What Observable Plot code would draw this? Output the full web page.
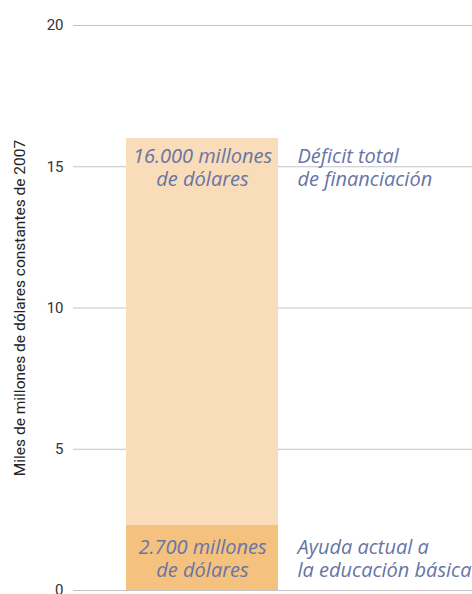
<!DOCTYPE html>
<html>
<head>
<meta charset="utf-8">
<script src="https://cdn.jsdelivr.net/npm/d3@7"></script>
<script src="https://cdn.jsdelivr.net/npm/@observablehq/plot@0.6"></script>
<style>
  html, body { margin: 0; padding: 0; background: #fff; }
  #chart svg { display: block; }
</style>
</head>
<body>
<div id="chart"></div>
<script>
// Data
const category = "Total";
const segmentNames = ["Ayuda actual a la educación básica", "Déficit total de financiación"];
const segmentStart = [0, 2.3];
const segmentEnd = [2.3, 16];
const segmentColors = ["#f5c17f", "#f9dcb9"];
const insideLabels = ["2.700 millones\nde dólares", "16.000 millones\nde dólares"];
const sideLabels = ["Ayuda actual a\nla educación básica", "Déficit total\nde financiación"];
const yTicks = [0, 5, 10, 15, 20];
const yLabel = "Miles de millones de dólares constantes de 2007";

const segments = segmentNames.map((name, i) => ({
  cat: category,
  name,
  y1: segmentStart[i],
  y2: segmentEnd[i],
  color: segmentColors[i],
  inside: insideLabels[i],
  side: sideLabels[i],
  // top label sits near the top of the bar, bottom label in the middle of its segment
  ly: i === 0 ? (segmentStart[i] + segmentEnd[i]) / 2 : segmentEnd[i] - 1
}));

const textColor = "#6774a6";
const labelFont = "'Open Sans', 'Noto Sans', sans-serif";

const chart = Plot.plot({
  width: 472,
  height: 594,
  marginLeft: 73,
  marginRight: 0,
  marginTop: 25,
  marginBottom: 4,
  style: {fontFamily: "Roboto, sans-serif", fontSize: "15px", color: "#333"},
  x: {type: "band", domain: [category], range: [126, 278], padding: 0, axis: null},
  y: {domain: [0, 20], ticks: yTicks, label: null},
  marks: [
    Plot.gridY(yTicks, {stroke: "#c4c4c4", strokeOpacity: 1, strokeWidth: 1}),
    Plot.barY(segments, {x: "cat", y1: "y1", y2: "y2", fill: "color"}),
    Plot.text(segments, {x: "cat", y: "ly", text: "inside", fill: textColor, fontFamily: labelFont, fontStyle: "italic", fontSize: 20, lineHeight: 1.15}),
    Plot.text(segments, {x: "cat", y: "ly", text: "side", dx: 95, textAnchor: "start", fill: textColor, fontFamily: labelFont, fontStyle: "italic", fontSize: 20, lineHeight: 1.15}),
    Plot.axisY(yTicks, {tickSize: 0, tickPadding: 10, label: null, fontSize: 15}),
    Plot.text([yLabel], {frameAnchor: "left", textAnchor: "middle", dx: -53, rotate: -90, fontSize: 15.5, fill: "#222"})
  ]
});
document.getElementById("chart").appendChild(chart);
</script>
</body>
</html>
